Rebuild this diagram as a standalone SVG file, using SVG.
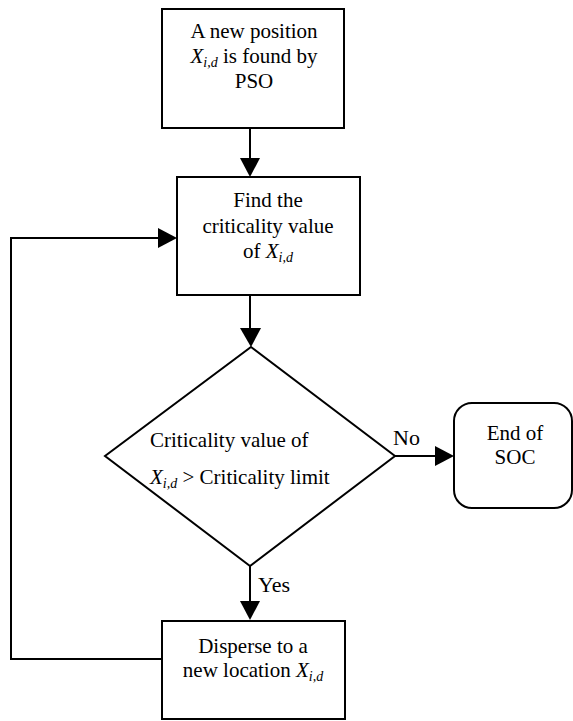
<svg xmlns="http://www.w3.org/2000/svg" width="573" height="721" viewBox="0 0 573 721">
<defs>
<style>
.box{fill:#fff;stroke:#000;stroke-width:2}
.t{font-family:"Liberation Serif","Times New Roman",serif;font-size:21px;fill:#000}
.lbl{font-family:"Liberation Serif","Times New Roman",serif;font-size:22px;fill:#000}
.i{font-style:italic}
.sub{font-style:italic;font-size:14px}
.c{stroke:#000;stroke-width:2;fill:none}
</style>
<marker id="ah" markerWidth="10" markerHeight="10" refX="10" refY="5" orient="auto" markerUnits="userSpaceOnUse" viewBox="0 0 10 10">
<path d="M0,0 L10,5 L0,10 Z" fill="#000"/>
</marker>
</defs>
<rect width="573" height="721" fill="#fff"/>
<g id="connectors">
<path class="c" d="M250,128 V158"/>
<path d="M240,158 L260,158 L250,177 Z" fill="#000"/>
<path class="c" d="M250,295 V328"/>
<path d="M240,328 L261,328 L251,347 Z" fill="#000"/>
<path class="c" d="M395,456 H435"/>
<path d="M435,446 L435,466 L454,456 Z" fill="#000"/>
<path class="c" d="M250,566 V601"/>
<path d="M240,601 L260,601 L250,620 Z" fill="#000"/>
<path class="c" d="M162,659 H11 V238 H158"/>
<path d="M158,228 L158,248 L177,238 Z" fill="#000"/>
<text class="lbl" x="393" y="445">No</text>
<text class="lbl" x="258" y="592">Yes</text>
</g>
<g id="n1">
<rect class="box" x="162" y="9" width="182" height="119"/>
<text class="t" x="254" y="38" text-anchor="middle">A new position</text>
<text class="t" x="254" y="63" text-anchor="middle"><tspan class="i">X</tspan><tspan class="sub" dy="4">i,d</tspan><tspan dy="-4"> is found by</tspan></text>
<text class="t" x="254" y="88" text-anchor="middle">PSO</text>
</g>
<g id="n2">
<rect class="box" x="177" y="177" width="183" height="118"/>
<text class="t" x="268" y="207" text-anchor="middle">Find the</text>
<text class="t" x="268" y="233" text-anchor="middle">criticality value</text>
<text class="t" x="268" y="258" text-anchor="middle">of <tspan class="i">X</tspan><tspan class="sub" dy="4">i,d</tspan></text>
</g>
<g id="n3">
<path class="box" d="M251,347 L395,456 L250,566 L105,456 Z"/>
<text class="t" x="150" y="447">Criticality value of</text>
<text class="t" x="150" y="484"><tspan class="i">X</tspan><tspan class="sub" dy="4">i,d</tspan><tspan dy="-4"> &gt; Criticality limit</tspan></text>
</g>
<g id="n4">
<rect class="box" x="454" y="403" width="118" height="105" rx="18" ry="18"/>
<text class="t" x="515" y="440" text-anchor="middle">End of</text>
<text class="t" x="515" y="464" text-anchor="middle">SOC</text>
</g>
<g id="n5">
<rect class="box" x="162" y="621" width="183" height="98"/>
<text class="t" x="253" y="653" text-anchor="middle">Disperse to a</text>
<text class="t" x="253" y="677" text-anchor="middle">new location <tspan class="i">X</tspan><tspan class="sub" dy="4">i,d</tspan></text>
</g>
</svg>
